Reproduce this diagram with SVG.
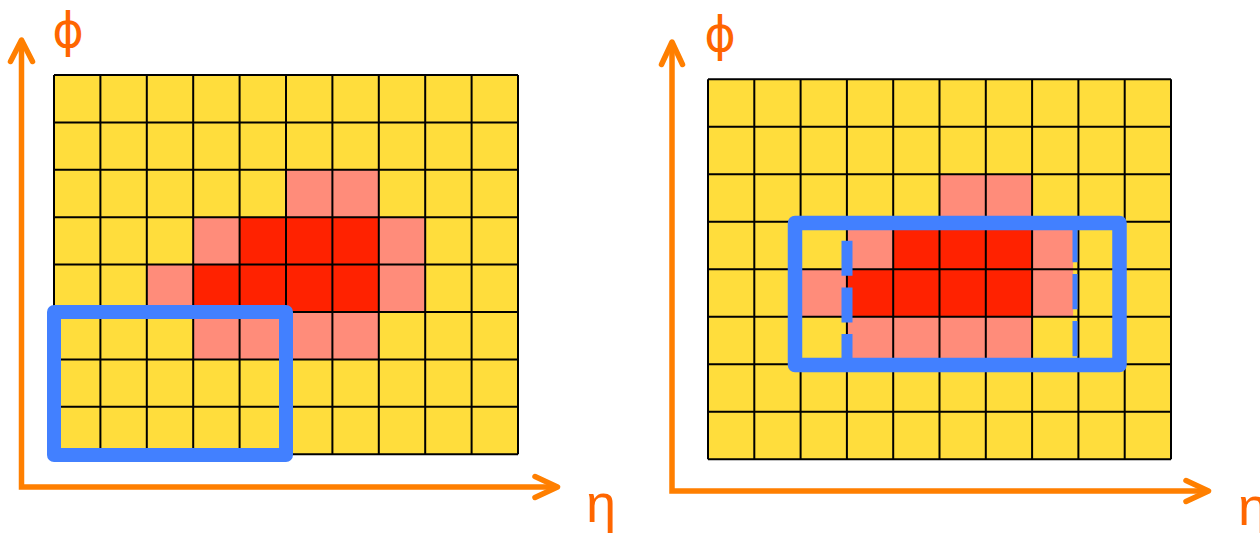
<svg xmlns="http://www.w3.org/2000/svg" width="1260" height="533" viewBox="0 0 1260 533">
<style>
.y{fill:#FFDD3C}
.p{fill:#FF8C7A}
.r{fill:#FF2200}
.grid{fill:none;stroke:#000;stroke-width:2}
.box{fill:none;stroke:#4280FF;stroke-linejoin:round}
.axis{fill:none;stroke:#FF7F00;stroke-width:5.5}
.head{fill:none;stroke:#FF7F00;stroke-width:5.5;stroke-linecap:round;stroke-linejoin:round}
.lbl{font-family:"Liberation Sans",Arial,sans-serif;font-size:54px;fill:#FF6600}
.phi{font-family:"DejaVu Sans",sans-serif;font-size:48px;fill:#FF6600}
</style>
<rect width="1260" height="533" fill="#fff"/>

<g id="left-panel">
  <g id="left-cells">
    <rect class="y" x="54" y="75" width="464" height="379.2"/>
    <rect class="p" x="286" y="169.8" width="92.8" height="47.4"/>
    <rect class="p" x="193.2" y="217.2" width="46.4" height="47.4"/>
    <rect class="r" x="239.6" y="217.2" width="139.2" height="47.4"/>
    <rect class="p" x="378.8" y="217.2" width="46.4" height="47.4"/>
    <rect class="p" x="146.8" y="264.6" width="46.4" height="47.4"/>
    <rect class="r" x="193.2" y="264.6" width="185.6" height="47.4"/>
    <rect class="p" x="378.8" y="264.6" width="46.4" height="47.4"/>
    <rect class="p" x="193.2" y="312" width="185.6" height="47.4"/>
  </g>
  <path id="left-grid" class="grid" d="M54 75V454.2M100.4 75V454.2M146.8 75V454.2M193.2 75V454.2M239.6 75V454.2M286 75V454.2M332.4 75V454.2M378.8 75V454.2M425.2 75V454.2M471.6 75V454.2M518 75V454.2M54 75H518M54 122.4H518M54 169.8H518M54 217.2H518M54 264.6H518M54 312H518M54 359.4H518M54 406.8H518M54 454.2H518"/>
  <rect id="left-window" class="box" stroke-width="14" x="54" y="312" width="232" height="143"/>
  <g id="left-axes">
    <polyline class="axis" points="21.5,42 21.5,487 555,487"/>
    <polyline class="head" points="10.5,61.5 21.5,40 32.5,61.5"/>
    <polyline class="head" points="535,476.5 557.5,487 535,497.5"/>
    <text class="phi" x="68" y="47" text-anchor="middle">ϕ</text>
    <text class="lbl" x="586" y="522">η</text>
  </g>
</g>

<g id="right-panel">
  <g id="right-cells">
    <rect class="y" x="708" y="79.3" width="463" height="380"/>
    <rect class="p" x="939.5" y="174.3" width="92.6" height="47.5"/>
    <rect class="p" x="846.9" y="221.8" width="46.3" height="47.5"/>
    <rect class="r" x="893.2" y="221.8" width="138.9" height="47.5"/>
    <rect class="p" x="1032.1" y="221.8" width="41" height="47.5"/>
    <rect class="p" x="800.6" y="269.3" width="46.3" height="47.5"/>
    <rect class="r" x="846.9" y="269.3" width="185.2" height="47.5"/>
    <rect class="p" x="1032.1" y="269.3" width="41" height="47.5"/>
    <rect class="p" x="846.9" y="316.8" width="185.2" height="47.5"/>
  </g>
  <path id="right-grid" class="grid" d="M708 79.3V459.3M754.3 79.3V459.3M800.6 79.3V459.3M846.9 79.3V459.3M893.2 79.3V459.3M939.5 79.3V459.3M985.8 79.3V459.3M1032.1 79.3V459.3M1078.4 79.3V459.3M1124.7 79.3V459.3M1171 79.3V459.3M708 79.3H1171M708 126.8H1171M708 174.3H1171M708 221.8H1171M708 269.3H1171M708 316.8H1171M708 364.3H1171M708 411.8H1171M708 459.3H1171"/>
  <g id="right-window">
    <line stroke="#4280FF" stroke-width="11" stroke-dasharray="35 11.7" x1="847" y1="240.7" x2="847" y2="360"/>
    <line stroke="#4280FF" stroke-width="5" stroke-dasharray="35.3 11.7" x1="1075" y1="227" x2="1075" y2="358"/>
    <rect class="box" stroke-width="14.5" x="795" y="223" width="324.5" height="142"/>
  </g>
  <g id="right-axes">
    <polyline class="axis" points="672,44 672,491 1207,491"/>
    <polyline class="head" points="661.5,64.5 672,42 682.5,64.5"/>
    <polyline class="head" points="1186,480.5 1208.5,491 1186,501.5"/>
    <text class="phi" x="720" y="51" text-anchor="middle">ϕ</text>
    <text class="lbl" x="1238" y="525">η</text>
  </g>
</g>
</svg>
